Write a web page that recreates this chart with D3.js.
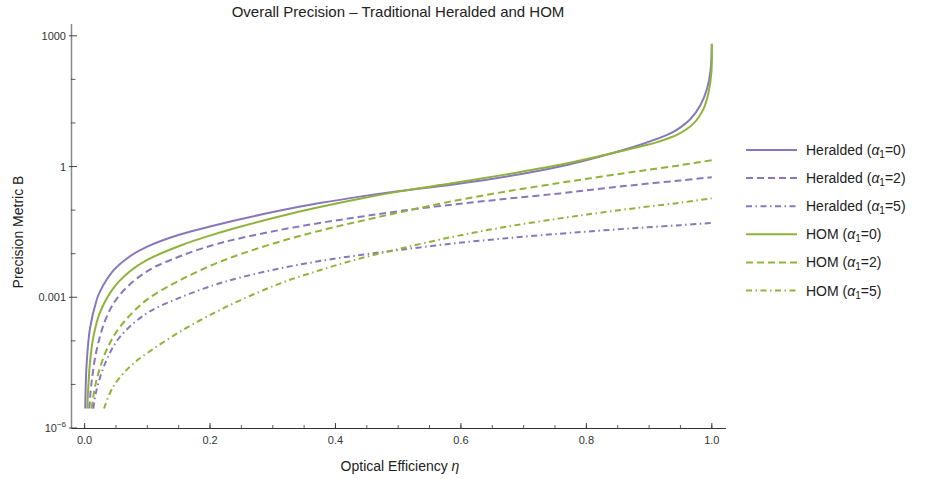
<!DOCTYPE html>
<html>
<head>
<meta charset="utf-8">
<script src="https://cdn.jsdelivr.net/npm/d3@7"></script>
<style>
  html, body { margin: 0; padding: 0; background: #fff; }
  svg { display: block; font-family: "Liberation Sans", Arial, sans-serif; }
</style>
</head>
<body>
<svg id="chart" width="933" height="479"></svg>
<script>
// Precision metric B versus optical efficiency eta, [eta, B] pairs per curve
const heraldedA0 = [
  [0.001, 2.8e-6], [0.0032, 2.88e-5], [0.0085, 1.897e-4], [0.0193, 8.79e-4],
  [0.0244, 1.349e-3], [0.0457, 4.07e-3], [0.0724, 8.75e-3], [0.099, 0.01435],
  [0.152, 0.0275], [0.205, 0.0437], [0.248, 0.0617], [0.312, 0.0977],
  [0.375, 0.145], [0.439, 0.204], [0.503, 0.275], [0.588, 0.389],
  [0.673, 0.589], [0.758, 1.0], [0.822, 1.70], [0.886, 3.16],
  [0.934, 5.75], [0.95, 7.94], [0.966, 12.3], [0.982, 25.7],
  [0.9925, 61.7], [0.998, 158], [1.0, 631]
];
const heraldedA2 = [
  [0.0074, 2.8e-6], [0.0111, 1.096e-5], [0.019, 5.98e-5], [0.035, 3.51e-4],
  [0.0564, 1.156e-3], [0.099, 3.89e-3], [0.152, 8.71e-3], [0.205, 0.0158],
  [0.248, 0.0226], [0.312, 0.0352], [0.375, 0.0507], [0.439, 0.0701],
  [0.503, 0.0955], [0.588, 0.1346], [0.673, 0.1824], [0.758, 0.242],
  [0.822, 0.309], [0.886, 0.389], [0.95, 0.479], [1.0, 0.569]
];
const heraldedA5 = [
  [0.014, 2.8e-6], [0.019, 7.41e-6], [0.035, 3.63e-5], [0.0564, 1.23e-4],
  [0.099, 4.27e-4], [0.152, 9.82e-4], [0.205, 1.875e-3], [0.248, 2.83e-3],
  [0.312, 4.61e-3], [0.375, 6.78e-3], [0.439, 9.33e-3], [0.503, 0.01225],
  [0.588, 0.01718], [0.673, 0.02265], [0.758, 0.02884], [0.822, 0.0339],
  [0.886, 0.0394], [0.95, 0.0452], [1.0, 0.0507]
];
const homA0 = [
  [0.0042, 2.8e-6], [0.0085, 3.08e-5], [0.0138, 1.20e-4], [0.0244, 4.44e-4],
  [0.0457, 1.607e-3], [0.0724, 3.94e-3], [0.099, 7.08e-3], [0.152, 0.01524],
  [0.205, 0.0274], [0.248, 0.0415], [0.312, 0.0723], [0.375, 0.1175],
  [0.439, 0.182], [0.503, 0.269], [0.588, 0.417], [0.673, 0.661],
  [0.758, 1.096], [0.822, 1.74], [0.886, 2.88], [0.913, 3.63],
  [0.945, 5.37], [0.971, 9.77], [0.987, 21.4], [0.995, 51.3],
  [0.9994, 148], [1.0, 661]
];
const homA2 = [
  [0.0111, 2.8e-6], [0.019, 1.26e-5], [0.035, 6.17e-5], [0.0564, 2.09e-4],
  [0.099, 8.71e-4], [0.152, 2.45e-3], [0.205, 5.62e-3], [0.248, 9.7e-3],
  [0.312, 0.0191], [0.375, 0.0337], [0.439, 0.0556], [0.503, 0.0891],
  [0.588, 0.162], [0.673, 0.269], [0.758, 0.422], [0.822, 0.583],
  [0.886, 0.794], [0.95, 1.074], [1.0, 1.396]
];
const homA5 = [
  [0.031, 2.8e-6], [0.0457, 8.91e-6], [0.0723, 2.57e-5], [0.099, 5.13e-5],
  [0.152, 1.62e-4], [0.205, 4.27e-4], [0.248, 8.51e-4], [0.312, 2.09e-3],
  [0.375, 4.17e-3], [0.439, 7.76e-3], [0.503, 0.01303], [0.588, 0.02455],
  [0.673, 0.0417], [0.758, 0.0646], [0.822, 0.0871], [0.886, 0.1148],
  [0.95, 0.148], [1.0, 0.186]
];

const xTicks = [0, 0.2, 0.4, 0.6, 0.8, 1.0];
const xMinorTicks = d3.range(0, 1.0001, 0.05);
const yTicks = [1e-6, 1e-3, 1, 1e3];
const yTickLabels = ["10", "0.001", "1", "1000"];
const yMinorTicks = [1e-5, 1e-4, 1e-2, 1e-1, 10, 100];

const seriesNames = ["Heralded", "Heralded", "Heralded", "HOM", "HOM", "HOM"];
const seriesAlpha = ["0", "2", "5", "0", "2", "5"];
const seriesData = [heraldedA0, heraldedA2, heraldedA5, homA0, homA2, homA5];

const purple = "#8878bb";
const green = "#8fb33a";
const seriesColor = [purple, purple, purple, green, green, green];
const dashStyles = [null, "7,4", "6,3.5,1.5,3.5"];
const seriesDash = [dashStyles[0], dashStyles[1], dashStyles[2], dashStyles[0], dashStyles[1], dashStyles[2]];

const svg = d3.select("#chart");

// Scales: linear efficiency on x, logarithmic precision on y
const x = d3.scaleLinear().domain([0, 1]).range([84.6, 711.8]);
const y = d3.scaleLog().domain([1e-6, 1e3]).range([428, 35.8]);
const xAxisStart = 71, xAxisEnd = 726;
const yAxisTop = 24, yAxisBottom = 428;

// Curves
const line = d3.line()
  .x(d => x(d[0]))
  .y(d => y(d[1]))
  .curve(d3.curveCatmullRom.alpha(0.5));

const curves = svg.append("g");
seriesData.forEach((data, i) => {
  curves.append("path")
    .attr("d", line(data))
    .attr("fill", "none")
    .attr("stroke", seriesColor[i])
    .attr("stroke-width", 2)
    .attr("stroke-dasharray", seriesDash[i])
    .attr("stroke-linejoin", "round");
});

// X axis with inward ticks
const gx = svg.append("g");
gx.append("line")
  .attr("x1", xAxisStart).attr("x2", xAxisEnd)
  .attr("y1", yAxisBottom + 0.5).attr("y2", yAxisBottom + 0.5)
  .attr("stroke", "#333").attr("stroke-width", 1);
gx.selectAll("line.minor").data(xMinorTicks).join("line")
  .attr("class", "minor")
  .attr("x1", d => x(d)).attr("x2", d => x(d))
  .attr("y1", yAxisBottom).attr("y2", yAxisBottom - 3)
  .attr("stroke", "#333").attr("stroke-width", 0.8);
gx.selectAll("line.major").data(xTicks).join("line")
  .attr("class", "major")
  .attr("x1", d => x(d)).attr("x2", d => x(d))
  .attr("y1", yAxisBottom).attr("y2", yAxisBottom - 5)
  .attr("stroke", "#333").attr("stroke-width", 0.9);
gx.selectAll("text").data(xTicks).join("text")
  .attr("x", d => x(d)).attr("y", 444)
  .attr("text-anchor", "middle")
  .attr("font-size", 11).attr("fill", "#333")
  .text(d => d3.format(".1f")(d));

// Y axis with inward ticks
const gy = svg.append("g");
gy.append("line")
  .attr("x1", xAxisStart + 0.5).attr("x2", xAxisStart + 0.5)
  .attr("y1", yAxisTop).attr("y2", yAxisBottom + 1)
  .attr("stroke", "#888").attr("stroke-width", 1.5);
gy.selectAll("line.minor").data(yMinorTicks).join("line")
  .attr("class", "minor")
  .attr("x1", xAxisStart).attr("x2", xAxisStart + 4.5)
  .attr("y1", d => y(d)).attr("y2", d => y(d))
  .attr("stroke", "#333").attr("stroke-width", 0.8);
gy.selectAll("line.major").data(yTicks).join("line")
  .attr("class", "major")
  .attr("x1", xAxisStart - 2).attr("x2", xAxisStart + 6)
  .attr("y1", d => y(d)).attr("y2", d => y(d))
  .attr("stroke", "#333").attr("stroke-width", 0.9);
const yLabels = gy.selectAll("text").data(yTicks).join("text")
  .attr("x", 66).attr("y", d => y(d) + 4)
  .attr("text-anchor", "end")
  .attr("font-size", 11).attr("fill", "#333");
yLabels.each(function (d, i) {
  const t = d3.select(this);
  if (i === 0) {
    t.append("tspan").text(yTickLabels[i]);
    t.append("tspan").attr("dy", -5).attr("font-size", 8).text("\u22126");
  } else {
    t.text(yTickLabels[i]);
  }
});

// Title and axis labels
svg.append("text")
  .attr("x", 398).attr("y", 17)
  .attr("text-anchor", "middle")
  .attr("font-size", 15).attr("fill", "#222")
  .text("Overall Precision \u2013 Traditional Heralded and HOM");

const xl = svg.append("text")
  .attr("x", 400).attr("y", 471)
  .attr("text-anchor", "middle")
  .attr("font-size", 14).attr("fill", "#222");
xl.append("tspan").text("Optical Efficiency ");
xl.append("tspan").attr("font-style", "italic").text("\u03b7");

svg.append("text")
  .attr("transform", "translate(23,232) rotate(-90)")
  .attr("text-anchor", "middle")
  .attr("font-size", 14).attr("fill", "#222")
  .text("Precision Metric B");

// Legend
const legendY0 = 150, legendStep = 28.1;
const legend = svg.append("g");
seriesData.forEach((data, i) => {
  const ly = legendY0 + i * legendStep;
  legend.append("line")
    .attr("x1", 746).attr("x2", 797)
    .attr("y1", ly).attr("y2", ly)
    .attr("stroke", seriesColor[i])
    .attr("stroke-width", 2)
    .attr("stroke-dasharray", seriesDash[i]);
  const t = legend.append("text")
    .attr("x", 806).attr("y", ly + 5)
    .attr("font-size", 14).attr("fill", "#222");
  t.append("tspan").text(seriesNames[i] + " (");
  t.append("tspan").attr("font-style", "italic").text("\u03b1");
  t.append("tspan").attr("dy", 3).attr("font-size", 10).text("1");
  t.append("tspan").attr("dy", -3).text("=" + seriesAlpha[i] + ")");
});
</script>
</body>
</html>
